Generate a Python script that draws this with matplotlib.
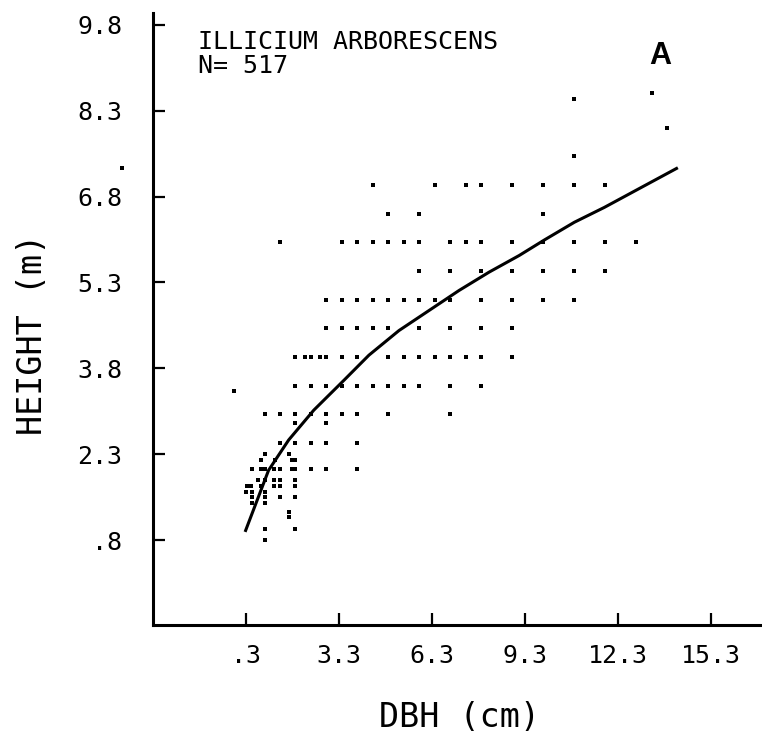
import matplotlib
matplotlib.use('Agg')
import matplotlib.pyplot as plt

# scatter points (DBH cm, height m)
dbh = [10.9, 13.4, 13.9, 10.9,
       4.4, 6.4, 7.4, 7.9, 8.9, 9.9, 10.9, 11.9,
       4.9, 5.9, 9.9,
       1.4, 3.4, 3.9, 4.4, 4.9, 5.4, 5.9, 6.9, 7.4, 7.9, 8.9, 9.9, 10.9, 11.9, 12.9,
       5.9, 6.9, 7.9, 8.9, 9.9, 10.9, 11.9,
       2.9, 3.4, 3.9, 4.4, 4.9, 5.4, 5.9, 6.4, 6.9, 7.9, 8.9, 9.9, 10.9,
       2.9, 3.4, 3.9, 4.4, 4.9, 5.9, 6.9, 7.9, 8.9,
       1.9, 2.2, 2.4, 2.7, 2.9, 3.4, 3.9, 4.9, 5.4, 5.9, 6.4, 6.9, 7.4, 7.9, 8.9,
       1.9, 2.4, 2.9, 3.4, 3.9, 4.4, 4.9, 5.4, 5.9, 6.9, 7.9,
       0.9, 1.4, 1.9, 2.4, 2.9, 3.4, 3.9, 4.9, 6.9,
       1.9, 2.9,
       1.4, 1.9, 2.4, 2.9, 3.9,
       0.9, 1.7,
       0.8, 1.25, 1.8, 1.9,
       0.5, 0.8, 0.9, 1.2, 1.4, 1.8, 1.9, 2.4, 2.9, 3.9,
       0.7, 0.9, 1.2, 1.4, 1.9,
       0.35, 0.45, 0.8, 1.2, 1.4, 1.9,
       0.3, 0.5, 0.9,
       0.5, 0.9, 1.4, 1.9,
       0.5, 0.9,
       1.7, 1.7,
       0.9, 1.9,
       0.9,
       -0.1, -3.7]
height = [8.5, 8.6, 8.0, 7.5,
          7.0, 7.0, 7.0, 7.0, 7.0, 7.0, 7.0, 7.0,
          6.5, 6.5, 6.5,
          6.0, 6.0, 6.0, 6.0, 6.0, 6.0, 6.0, 6.0, 6.0, 6.0, 6.0, 6.0, 6.0, 6.0, 6.0,
          5.5, 5.5, 5.5, 5.5, 5.5, 5.5, 5.5,
          5.0, 5.0, 5.0, 5.0, 5.0, 5.0, 5.0, 5.0, 5.0, 5.0, 5.0, 5.0, 5.0,
          4.5, 4.5, 4.5, 4.5, 4.5, 4.5, 4.5, 4.5, 4.5,
          4.0, 4.0, 4.0, 4.0, 4.0, 4.0, 4.0, 4.0, 4.0, 4.0, 4.0, 4.0, 4.0, 4.0, 4.0,
          3.5, 3.5, 3.5, 3.5, 3.5, 3.5, 3.5, 3.5, 3.5, 3.5, 3.5,
          3.0, 3.0, 3.0, 3.0, 3.0, 3.0, 3.0, 3.0, 3.0,
          2.85, 2.85,
          2.5, 2.5, 2.5, 2.5, 2.5,
          2.3, 2.3,
          2.2, 2.2, 2.2, 2.2,
          2.05, 2.05, 2.05, 2.05, 2.05, 2.05, 2.05, 2.05, 2.05, 2.05,
          1.85, 1.85, 1.85, 1.85, 1.85,
          1.75, 1.75, 1.75, 1.75, 1.75, 1.75,
          1.65, 1.65, 1.65,
          1.55, 1.55, 1.55, 1.55,
          1.45, 1.45,
          1.3, 1.2,
          1.0, 1.0,
          0.8,
          3.4, 7.3]

# fitted curve
curve_x = [0.29, 1.03, 1.68, 2.49, 3.46, 4.27, 5.24, 6.21, 7.18, 8.15, 9.12, 9.93, 10.9, 11.87, 13.0, 14.2]
curve_y = [0.97, 2.02, 2.55, 3.07, 3.59, 4.03, 4.46, 4.81, 5.16, 5.48, 5.77, 6.04, 6.35, 6.61, 6.94, 7.29]

xticks = [0.3, 3.3, 6.3, 9.3, 12.3, 15.3]
xtick_labels = ['.3', '3.3', '6.3', '9.3', '12.3', '15.3']
yticks = [0.8, 2.3, 3.8, 5.3, 6.8, 8.3, 9.8]
ytick_labels = ['.8', '2.3', '3.8', '5.3', '6.8', '8.3', '9.8']

mono = 'DejaVu Sans Mono'

fig = plt.figure(figsize=(7.62, 7.35), dpi=100)
ax = fig.add_axes([0.2008, 0.1497, 0.7992, 0.8323])

ax.plot(dbh, height, 's', color='black', markersize=2.3, markeredgewidth=0, clip_on=False)
ax.plot(curve_x, curve_y, '-', color='black', linewidth=2.2, solid_joinstyle='round')

ax.set_xlim(-2.7, 16.96)
ax.set_ylim(-0.68, 10.0)

for s in ['top', 'right']:
    ax.spines[s].set_visible(False)
for s in ['left', 'bottom']:
    ax.spines[s].set_linewidth(2.2)

ax.set_xticks(xticks)
ax.set_xticklabels(xtick_labels, family=mono, fontsize=18)
ax.set_yticks(yticks)
ax.set_yticklabels(ytick_labels, family=mono, fontsize=18)
ax.tick_params(axis='both', direction='in', length=8.5, width=1.6)
ax.tick_params(axis='x', pad=14)
ax.tick_params(axis='y', pad=22)

ax.set_xlabel('DBH (cm)', family=mono, fontsize=24)
ax.set_ylabel('HEIGHT (m)', family=mono, fontsize=24)
ax.xaxis.set_label_coords(0.504, -0.125)
ax.yaxis.set_label_coords(-0.17, 0.475)

ax.text(-1.25, 9.5, 'ILLICIUM ARBORESCENS', family=mono, fontsize=18, va='center', ha='left')
ax.text(-1.25, 9.07, 'N= 517', family=mono, fontsize=18, va='center', ha='left')
ax.text(13.66, 9.26, 'A', family='Liberation Sans', fontweight='bold', fontsize=22,
        va='center', ha='center')

fig.savefig('out.png', dpi=100)
